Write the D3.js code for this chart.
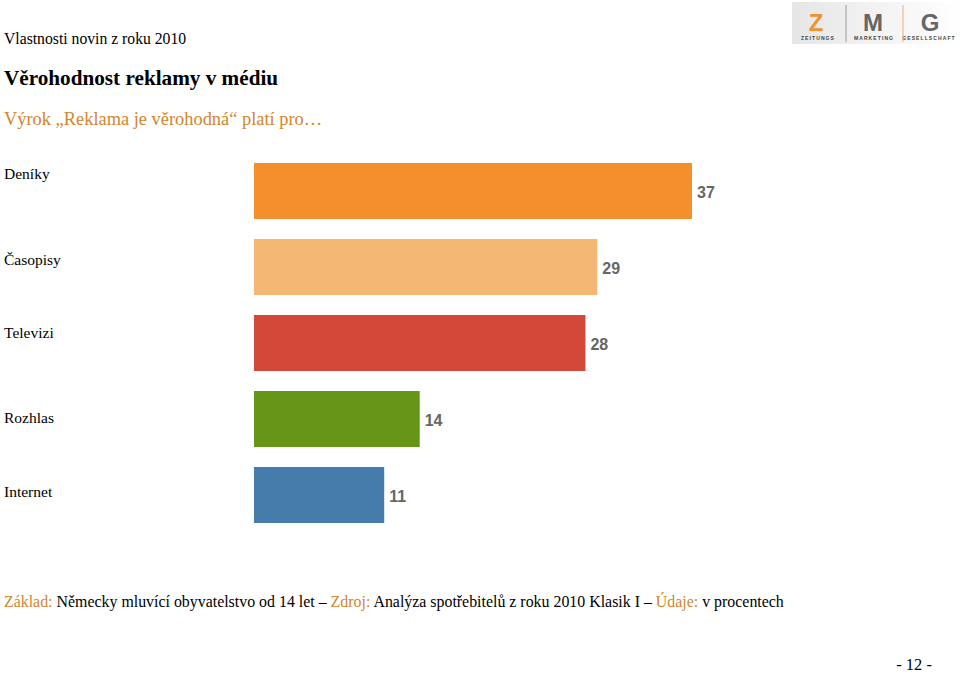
<!DOCTYPE html>
<html><head><meta charset="utf-8">
<script src="https://cdn.jsdelivr.net/npm/d3@7"></script>
<style>body{margin:0;background:#fff}svg{display:block}</style>
</head><body>
<script>
const categories = ["Deníky", "Časopisy", "Televizi", "Rozhlas", "Internet"];
const values = [37, 29, 28, 14, 11];
const colors = ["#F38F2D", "#F5B874", "#D4483A", "#659618", "#467CAB"];
const labelNudge = [-9, 1, -2, 7, 5];

const W = 960, H = 675;
const svg = d3.select("body").append("svg").attr("width", W).attr("height", H);
const serif = "'Liberation Serif','Times New Roman',serif";
const sans = "'Liberation Sans',Arial,sans-serif";
const orange = "#D2852F";

const x = d3.scaleLinear().domain([0, 37]).range([254, 692]);
const y = d3.scaleBand().domain(categories).range([153, 533]).paddingInner(20/76).paddingOuter(10/76);

// header texts
svg.append("text").attr("x", 4).attr("y", 44).attr("font-family", serif).attr("font-size", 15.7).attr("fill", "#000").text("Vlastnosti novin z roku 2010");
svg.append("text").attr("x", 4).attr("y", 85).attr("font-family", serif).attr("font-size", 21.2).attr("font-weight", "bold").attr("fill", "#000").text("Věrohodnost reklamy v médiu");
svg.append("text").attr("x", 4).attr("y", 125).attr("font-family", serif).attr("font-size", 18.4).attr("fill", orange).text("Výrok „Reklama je věrohodná“ platí pro…");

// logo
const logo = svg.append("g");
const lg = svg.append("defs").append("linearGradient").attr("id", "lg").attr("x1", 0).attr("x2", 1);
lg.append("stop").attr("offset", 0).attr("stop-color", "#e6e6e6");
lg.append("stop").attr("offset", 1).attr("stop-color", "#ffffff");
logo.append("rect").attr("x", 792).attr("y", 2).attr("width", 168).attr("height", 42).attr("fill", "url(#lg)");
[["Z", 816, "#F0922E"], ["M", 873, "#666"], ["G", 930, "#666"]].forEach(([t, cx, c]) => {
  logo.append("text").attr("x", cx).attr("y", 31).attr("text-anchor", "middle").attr("font-family", sans).attr("font-weight", "bold").attr("font-size", 24).attr("fill", c).text(t);
});
[["ZEITUNGS", 818], ["MARKETING", 874], ["GESELLSCHAFT", 929]].forEach(([t, cx]) => {
  logo.append("text").attr("x", cx).attr("y", 40).attr("text-anchor", "middle").attr("font-family", sans).attr("font-weight", "bold").attr("font-size", 5).attr("letter-spacing", 1.1).attr("fill", "#444").text(t);
});
[846, 903].forEach(lx => logo.append("line").attr("x1", lx).attr("x2", lx).attr("y1", 5).attr("y2", 42).attr("stroke", lx === 846 ? "#999" : "#F0B070").attr("stroke-width", 1));

// bars
svg.selectAll("rect.bar").data(categories).join("rect").attr("class", "bar")
  .attr("x", x(0)).attr("y", d => y(d)).attr("width", (d, i) => x(values[i]) - x(0))
  .attr("height", y.bandwidth()).attr("fill", (d, i) => colors[i]);

// value labels
svg.selectAll("text.val").data(categories).join("text").attr("class", "val")
  .attr("x", (d, i) => x(values[i]) + 5).attr("y", d => y(d) + y.bandwidth() / 2 + 1).attr("dy", "0.35em")
  .attr("font-family", sans).attr("font-weight", "bold").attr("font-size", 16).attr("fill", "#666")
  .text((d, i) => values[i]);

// category labels
svg.selectAll("text.cat").data(categories).join("text").attr("class", "cat")
  .attr("x", 4).attr("y", (d, i) => y(d) + y.bandwidth() / 2 - 8 + labelNudge[i]).attr("dy", "0.35em")
  .attr("font-family", serif).attr("font-size", 15.5).attr("fill", "#000").text(d => d);

// footer
const f = svg.append("text").attr("x", 4).attr("y", 607).attr("font-family", serif).attr("font-size", 15.9).attr("fill", "#000");
f.append("tspan").attr("fill", orange).text("Základ:");
f.append("tspan").text(" Německy mluvící obyvatelstvo od 14 let – ");
f.append("tspan").attr("fill", orange).text("Zdroj:");
f.append("tspan").text(" Analýza spotřebitelů z roku 2010 Klasik I – ");
f.append("tspan").attr("fill", orange).text("Údaje:");
f.append("tspan").text(" v procentech");

svg.append("text").attr("x", 932).attr("y", 670).attr("text-anchor", "end").attr("font-family", serif).attr("font-size", 16.5).attr("fill", "#000").text("- 12 -");
</script>
</body></html>
